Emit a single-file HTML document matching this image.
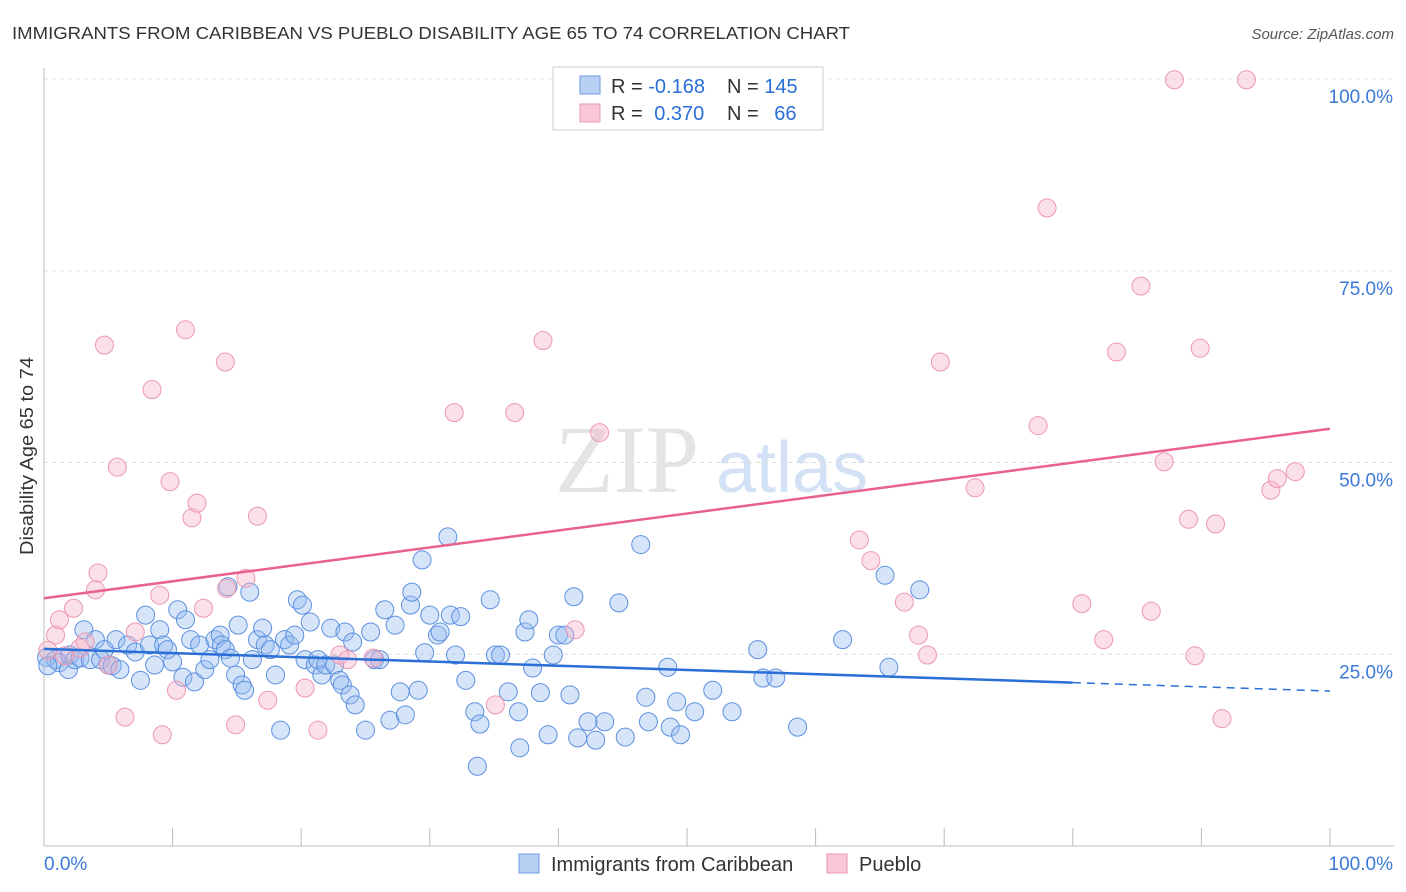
<!DOCTYPE html>
<html><head><meta charset="utf-8"><style>
body{margin:0;background:#fff;font-family:"Liberation Sans",sans-serif}
svg{display:block}
</style></head><body>
<svg id="chart" width="1406" height="892">
<text x="12" y="39" font-size="17.5" fill="#333" textLength="838" lengthAdjust="spacingAndGlyphs">IMMIGRANTS FROM CARIBBEAN VS PUEBLO DISABILITY AGE 65 TO 74 CORRELATION CHART</text>
<text x="1394" y="39" font-size="15" font-style="italic" fill="#555" text-anchor="end">Source: ZipAtlas.com</text>
<text x="555" y="492" font-size="96" font-family="Liberation Serif,serif" fill="#e4e4e4">ZIP</text>
<text x="716" y="492" font-size="72" fill="#d3e1f4">atlas</text>
<text transform="translate(33,456) rotate(-90)" font-size="18" fill="#333" text-anchor="middle" textLength="198" lengthAdjust="spacingAndGlyphs">Disability Age 65 to 74</text>
<g id="grid"></g><g id="ticks"></g><g id="pts"></g><g id="lines"></g>
<g>
<rect x="553" y="67" width="270" height="63" fill="#fff" stroke="#ccc"/>
<rect x="580" y="76" width="20" height="18" fill="#b8d0f4" stroke="#6f9be0"/>
<rect x="580" y="104" width="20" height="18" fill="#f9c7d6" stroke="#e99ab2"/>
<text x="611" y="93" font-size="20" fill="#333">R = <tspan fill="#2a6fd6">-0.168</tspan></text>
<text x="727" y="93" font-size="20" fill="#333">N = <tspan fill="#2a6fd6">145</tspan></text>
<text x="611" y="120" font-size="20" fill="#333">R = <tspan fill="#2a6fd6" dx="6">0.370</tspan></text>
<text x="727" y="120" font-size="20" fill="#333">N = <tspan fill="#2a6fd6" dx="10">66</tspan></text>
</g>
<g>
<rect x="519" y="854" width="20" height="19" fill="#b8d0f4" stroke="#6f9be0"/>
<text x="551" y="871" font-size="20" fill="#333">Immigrants from Caribbean</text>
<rect x="827" y="854" width="20" height="19" fill="#f9c7d6" stroke="#e99ab2"/>
<text x="859" y="871" font-size="20" fill="#333">Pueblo</text>
</g>
</svg>
<script>
const blueX=[0.2,0.9,1.2,1.9,2.0,2.4,2.8,3.1,3.6,4.0,4.4,4.7,5.0,5.3,5.6,5.9,6.5,7.1,7.5,7.9,8.2,8.6,9.0,9.3,9.6,10.0,10.4,10.8,11.0,11.4,11.7,12.1,12.5,12.9,13.3,13.7,13.8,14.1,14.3,14.5,14.9,15.1,15.4,15.6,16.0,16.2,16.6,17.0,17.2,17.6,18.0,18.4,18.7,19.1,19.5,19.7,20.1,20.3,20.7,21.1,21.3,21.6,21.9,22.3,22.6,23.0,23.2,23.4,23.8,24.0,24.2,25.0,25.4,25.7,26.1,26.5,26.9,27.3,27.7,28.1,28.5,28.6,29.1,29.4,29.6,30.0,30.6,30.8,31.4,31.6,32.0,32.4,32.8,33.5,33.7,33.9,34.7,35.1,35.5,36.1,36.9,37.0,37.4,37.7,38.0,38.6,39.2,39.6,40.0,40.5,40.9,41.2,41.5,42.3,42.9,43.6,44.7,45.2,46.4,46.8,47.0,48.5,48.7,49.2,49.5,50.6,52.0,53.5,55.5,55.9,56.9,58.6,62.1,65.4,65.7,68.1,0.3];
const blueY=[24.6,24.3,23.9,23.0,24.9,24.3,24.5,28.2,24.3,26.9,24.3,25.6,23.6,23.5,26.9,23.0,26.2,25.3,21.6,30.1,26.2,23.6,28.2,26.2,25.6,24.0,30.8,22.0,29.5,26.9,21.4,26.2,23.0,24.3,26.9,27.5,26.2,25.6,33.8,24.5,22.3,28.8,21.0,20.3,33.1,24.3,26.9,28.4,26.2,25.6,22.3,15.1,26.9,26.2,27.5,32.1,31.4,24.3,29.2,23.6,24.3,22.3,23.6,28.4,23.6,21.6,21.0,27.9,19.7,26.6,18.4,15.1,27.9,24.3,24.3,30.8,16.4,28.8,20.1,17.1,31.4,33.1,20.3,37.3,25.2,30.1,27.5,27.9,40.3,30.1,24.9,29.9,21.6,17.5,10.4,15.9,32.1,24.9,24.9,20.1,17.5,12.8,27.9,29.5,23.2,20.0,14.5,24.9,27.5,27.5,19.7,32.5,14.1,16.2,13.8,16.2,31.7,14.2,39.3,19.4,16.2,23.3,15.5,18.8,14.5,17.5,20.3,17.5,25.6,21.9,21.9,15.5,26.9,35.3,23.3,33.4,23.5];
const pinkX=[0.9,1.2,2.3,2.8,3.2,4.0,4.2,4.7,5.0,5.7,6.3,7.1,8.4,9.0,9.2,9.8,10.3,11.0,11.5,11.9,12.4,14.1,14.2,14.9,15.7,16.6,17.4,20.3,21.3,23.0,23.6,25.6,31.9,35.1,36.6,38.8,41.3,43.2,45.7,63.4,64.3,66.9,68.0,68.7,69.7,72.4,77.3,78.0,80.7,82.4,83.4,85.3,86.1,87.1,87.9,89.0,89.5,89.9,91.1,91.6,93.5,95.4,95.9,97.3,0.3,1.6];
const pinkY=[27.5,29.5,31.0,25.8,26.6,33.4,35.6,65.3,23.6,49.4,16.8,27.9,59.5,32.7,14.5,47.5,20.3,67.3,42.8,44.7,31.0,63.1,33.6,15.8,34.9,43.0,19.0,20.6,15.1,24.9,24.3,24.5,56.5,18.4,56.5,65.9,28.2,53.9,99.9,39.9,37.2,31.8,27.5,24.9,63.1,46.7,54.8,83.2,31.6,26.9,64.4,73.0,30.6,50.1,99.9,42.6,24.8,64.9,42.0,16.6,99.9,46.4,47.9,48.8,25.5,24.8];
const blueTrend=[25.7,-0.055]; // intercept, slope
const pinkTrend=[32.3,0.221];
const yTicks=[25,50,75,100];
const yTickLabels=["25.0%","50.0%","75.0%","100.0%"];
const xTicks=[0,10,20,30,40,50,60,70,80,90,100];
const xs=v=>44+v*12.86, ys=v=>846-v*7.67;
const NS="http://www.w3.org/2000/svg";
function mk(tag,attrs,parent){const e=document.createElementNS(NS,tag);for(const k in attrs)e.setAttribute(k,attrs[k]);document.getElementById(parent).appendChild(e);return e;}
mk('line',{x1:44,y1:68,x2:44,y2:846,stroke:'#bbb'},'grid');
mk('line',{x1:44,y1:846,x2:1394,y2:846,stroke:'#bbb'},'grid');
yTicks.forEach((t,i)=>{
 const l=mk('line',{x1:44,y1:ys(t),x2:1394,y2:ys(t),stroke:'#ddd','stroke-dasharray':'4,4'},'grid');
 
 
 const tx=mk('text',{x:1393,y:ys(t)+24,'font-size':19,fill:'#3b78d8','text-anchor':'end'},'ticks');
 tx.textContent=yTickLabels[i];
 
 
});
xTicks.forEach(t=>{
 const l=mk('line',{x1:xs(t),y1:828,x2:xs(t),y2:846,stroke:'#bbb'},'ticks');
 
 
});
const t0=mk('text',{x:44,y:870,'font-size':19,fill:'#3b78d8'},'ticks');t0.textContent='0.0%';


const t1=mk('text',{x:1393,y:870,'font-size':19,fill:'#3b78d8','text-anchor':'end'},'ticks');t1.textContent='100.0%';


blueX.forEach((x,i)=>{
 const c=mk('circle',{cx:xs(x),cy:ys(blueY[i]),r:9,fill:'rgba(150,188,240,0.4)',stroke:'#5c90e0','stroke-width':1},'pts');
 
 
});
pinkX.forEach((x,i)=>{
 const c=mk('circle',{cx:xs(x),cy:ys(pinkY[i]),r:9,fill:'rgba(246,178,200,0.4)',stroke:'#ec98b2','stroke-width':1},'pts');
 
 
});
const bt=v=>blueTrend[0]+blueTrend[1]*v, pt=v=>pinkTrend[0]+pinkTrend[1]*v;
const b1=mk('line',{x1:xs(0),y1:ys(bt(0)),x2:xs(80),y2:ys(bt(80)),stroke:'#2a6fd6','stroke-width':2.5},'lines');


const b2=mk('line',{x1:xs(80),y1:ys(bt(80)),x2:xs(100),y2:ys(bt(100)),stroke:'#2a6fd6','stroke-width':1.5,'stroke-dasharray':'8,6'},'lines');


const p1=mk('line',{x1:xs(0),y1:ys(pt(0)),x2:xs(100),y2:ys(pt(100)),stroke:'#e8628f','stroke-width':2.5},'lines');


</script>
</body></html>
